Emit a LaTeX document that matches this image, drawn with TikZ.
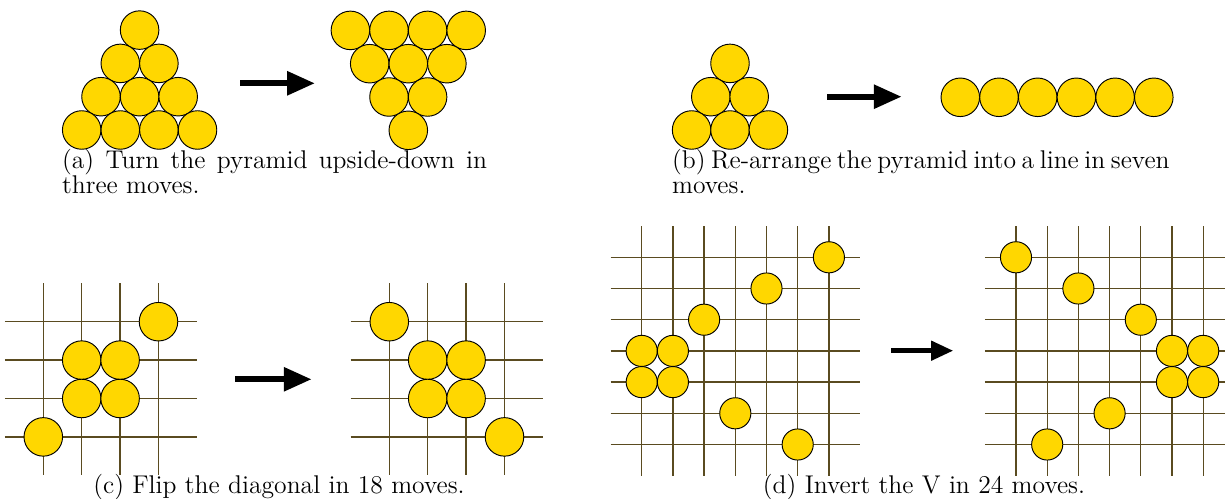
\documentclass[tikz,border=0pt]{standalone}
\usepackage{tikz}
\usetikzlibrary{arrows.meta}
\definecolor{coinfill}{RGB}{255,215,0}
\definecolor{gridcol}{RGB}{90,75,32}

\begin{document}
\begin{tikzpicture}[x=0.48pt,y=-0.48pt,
   coin/.style={circle,draw=black,line width=0.45pt,fill=coinfill,
                minimum size=18.5pt,inner sep=0pt},
   smallcoin/.style={coin,minimum size=14.95pt},
   gridline/.style={gridcol,line width=0.6pt},
   move/.style={-{Triangle[length=13.4pt,width=11pt]},line width=2.9pt},
   smallmove/.style={-{Triangle[length=10.6pt,width=9pt]},line width=2.4pt},
   captext/.style={inner sep=0pt,font=\fontsize{12.3}{14}\selectfont}]
  \useasboundingbox (0,0) rectangle (1225,499);

  \foreach \k in {0,...,3}
    \foreach \i in {0,...,\k}
      \node[coin] (al\k\i) at ({139.6+(\i-\k/2)*38.6},{30.1+\k*33.3}) {};
  \foreach \k in {0,...,3} {
    \pgfmathtruncatemacro\n{3-\k}
    \foreach \i in {0,...,\n}
      \node[coin] (ar\k\i) at ({408.3+(\i-\n/2)*38.6},{30.4+\k*33.3}) {};
  }
  \coordinate (afrom) at (240,83.3);
  \coordinate (ato) at (315,83.3);
  \draw[move] (afrom) -- (ato);
  \node[captext,anchor=base west] (capa) at (61.7,169)
       {\makebox[204pt][s]{(a) Turn the pyramid upside-down in}};
  \node[captext,anchor=base west] (capa2) at (61.7,194) {three moves.};

  \foreach \k in {0,...,2}
    \foreach \i in {0,...,\k}
      \node[coin] (bl\k\i) at ({730+(\i-\k/2)*38.4},{63.4+\k*33.3}) {};
  \foreach \i in {0,...,5}
    \node[coin] (br\i) at ({960.3+\i*38.7},97.3) {};
  \coordinate (bfrom) at (827.3,96.7);
  \coordinate (bto) at (901.7,96.7);
  \draw[move] (bfrom) -- (bto);
  \node[captext,anchor=base west] (capb) at (671.7,169)
       {\makebox[234pt][s]{(b) Re-arrange the pyramid into a line in seven}};
  \node[captext,anchor=base west] (capb2) at (671.7,194) {moves.};

  \foreach \j in {0,...,3} {
    \draw[gridline] (4.9,{321.7+\j*38.4}) -- (197.3,{321.7+\j*38.4});
    \draw[gridline] (350.7,{321.7+\j*38.4}) -- (542.9,{321.7+\j*38.4});
  }
  \foreach \i in {0,...,3} {
    \draw[gridline] ({43.3+\i*38.4},283.3) -- ({43.3+\i*38.4},475);
    \draw[gridline] ({389.3+\i*38.4},283.3) -- ({389.3+\i*38.4},475);
  }
  \foreach \i/\j [count=\n] in {3/0,1/1,2/1,1/2,2/2,0/3}
    \node[coin] (cl\n) at ({43.3+\i*38.4},{321.7+\j*38.4}) {};
  \foreach \i/\j [count=\n] in {0/0,1/1,2/1,1/2,2/2,3/3}
    \node[coin] (cr\n) at ({389.3+\i*38.4},{321.7+\j*38.4}) {};
  \coordinate (cfrom) at (235,379.3);
  \coordinate (cto) at (311.7,379.3);
  \draw[move] (cfrom) -- (cto);
  \node[captext,anchor=base] (capc) at (279,493.3) {(c) Flip the diagonal in 18 moves.};

  \foreach \j in {0,...,6} {
    \draw[gridline] (610.5,{257.3+\j*31.2}) -- (860.1,{257.3+\j*31.2});
    \draw[gridline] (984.8,{257.3+\j*31.2}) -- (1225,{257.3+\j*31.2});
  }
  \foreach \i in {0,...,6} {
    \draw[gridline] ({641.7+\i*31.2},226.1) -- ({641.7+\i*31.2},475.7);
    \draw[gridline] ({1016+\i*31.2},226.1) -- ({1016+\i*31.2},475.7);
  }
  \foreach \i/\j [count=\n] in {6/0,4/1,2/2,0/3,1/3,0/4,1/4,3/5,5/6}
    \node[smallcoin] (dl\n) at ({641.7+\i*31.2},{257.3+\j*31.2}) {};
  \foreach \i/\j [count=\n] in {0/0,2/1,4/2,5/3,6/3,5/4,6/4,3/5,1/6}
    \node[smallcoin] (dr\n) at ({1016+\i*31.2},{257.3+\j*31.2}) {};
  \coordinate (dfrom) at (891,350.7);
  \coordinate (dto) at (953.3,350.7);
  \draw[smallmove] (dfrom) -- (dto);
  \node[captext,anchor=base] (capd) at (924,493.3) {(d) Invert the V in 24 moves.};
\end{tikzpicture}
\end{document}
